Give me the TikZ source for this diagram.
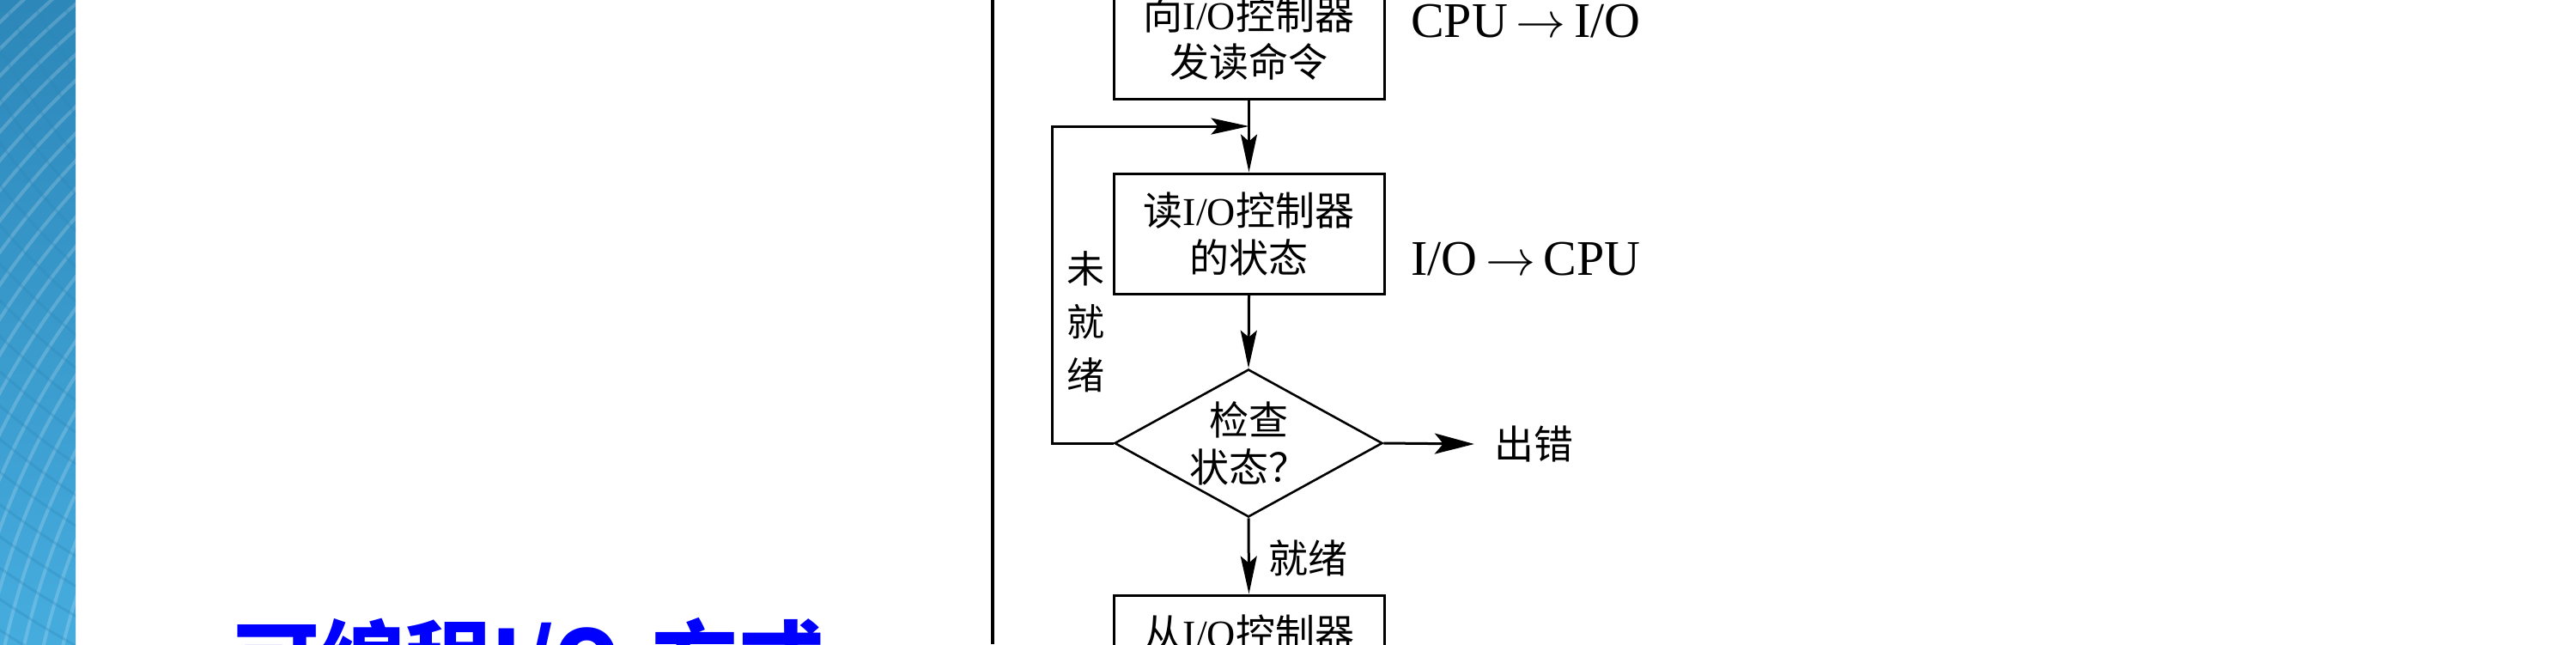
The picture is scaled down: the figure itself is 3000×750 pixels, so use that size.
\RequirePackage{fix-cm}
\documentclass[tikz,border=0pt]{standalone}
\usepackage{fontspec}
\setmainfont{Liberation Serif}
\newfontfamily\cjk{Noto Sans CJK SC}
\usetikzlibrary{arrows.meta,shapes.geometric}
\newcommand\zh[1]{{\cjk #1}}
\newcommand\toarr{\,$\rightarrow$\,}
\definecolor{titleblue}{RGB}{0,0,255}
\definecolor{stripA}{RGB}{45,135,185}
\definecolor{stripB}{RGB}{75,180,228}
\definecolor{stripC}{RGB}{70,172,222}
\begin{document}
\begin{tikzpicture}[x=1pt,y=-1pt,
  box/.style={draw, line width=3pt, minimum width=315pt, minimum height=140pt,
    inner sep=0pt, align=center, font=\fontsize{46}{55}\selectfont},
  dec/.style={draw, line width=2.6pt, diamond, minimum width=312pt, minimum height=172pt, inner sep=0pt},
  dtext/.style={inner sep=0pt, align=center, font=\fontsize{46}{55}\selectfont\cjk},
  lbl/.style={inner sep=0pt, font=\fontsize{58}{58}\selectfont},
  zlbl/.style={inner sep=0pt, align=center, font=\fontsize{44}{62}\selectfont\cjk},
  flow/.style={line width=3pt, -{Stealth[length=44pt,width=19pt,inset=8pt]}},
  flowbig/.style={line width=3pt, -{Stealth[length=46pt,width=24pt,inset=10pt]}},
  frame/.style={line width=4pt},
]
\useasboundingbox (0,0) rectangle (3000,750);
\fill[white] (0,0) rectangle (3000,750);

% decorative blue strip
\begin{scope}
  \clip (0,0) rectangle (88,750);
  \shade[top color=stripA, middle color=stripB, bottom color=stripC] (0,0) rectangle (88,750);
  \foreach \r in {300,322,...,1500}
    \draw[white, opacity=0.18, line width=4pt] (900,950) circle[radius=\r pt];
  \foreach \r in {300,330,...,1500}
    \draw[stripA, opacity=0.3, line width=3pt] (700,-350) circle[radius=\r pt];
\end{scope}

% title (cut by the bottom edge)
\node[anchor=base west, inner sep=0pt, text=titleblue,
  font=\fontsize{100}{100}\selectfont\cjk\bfseries] (title) at (272,806) {可编程I/O\hspace{14pt} 方式};

% separating vertical line
\coordinate (vt) at (1156,0);
\coordinate (vb) at (1156,750);
\draw[frame] (vt) -- (vb);

% flowchart
\node[box] (b1) at (1454.5,45) {\zh{向}I/O\zh{控制器}\\\zh{发读命令}};
\node[box] (b2) at (1454.5,272) {\zh{读}I/O\zh{控制器}\\\zh{的状态}};
\node[dec] (d) at (1454,516) {};
\node[dtext] (dt) at (d.center) {检查\\状态？};
\node[box] (b3) at (1454.5,763) {\zh{从}I/O\zh{控制器}\\\mbox{}};

\node[inner xsep=23pt, inner ysep=0pt, font=\fontsize{46}{46}\selectfont\cjk] (err) at (1786,517) {出错};
\node[inner sep=0pt, font=\fontsize{46}{46}\selectfont\cjk] (ready) at (1523,650) {就绪};
\node[zlbl] (notready) at (1264,375) {未\\就\\绪};

\node[lbl, anchor=base] (c2i) at (1777,43) {CPU\toarr I/O};
\node[lbl, anchor=base] (i2c) at (1777,320) {I/O\toarr CPU};

\coordinate (lp) at (1225,147);
\draw[flow] (b1.south) -- (b2.north);
\draw[flow] (b2.south) -- (d.north);
\draw[flow] (d.south) -- (b3.north);
\draw[flowbig] (d.east) -- (err.west);
\draw[flow] (d.west) -| (lp) -- (lp -| b1.south);
\end{tikzpicture}
\end{document}
